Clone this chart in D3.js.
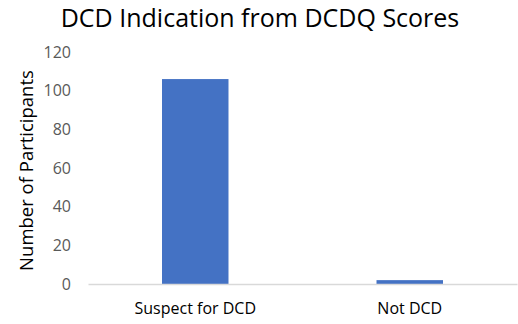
<!DOCTYPE html>
<html>
<head>
<meta charset="utf-8">
<script src="https://cdn.jsdelivr.net/npm/d3@7"></script>
<style>
  body { margin: 0; background: #fff; }
  text { font-family: "Open Sans", sans-serif; }
</style>
</head>
<body>
<svg id="viz"></svg>
<script>
const categories = ['Suspect for DCD', 'Not DCD']
const participants = [106, 2]
const yTicks = [0, 20, 40, 60, 80, 100, 120]

const width = 518
const height = 324
const margin = { top: 52, right: 1, bottom: 40, left: 88 }

const svg = d3.select('#viz').attr('width', width).attr('height', height)

const x = d3
  .scaleBand()
  .domain(categories)
  .range([margin.left, width - margin.right])
  .paddingInner(0.69)
  .paddingOuter(0.345)

const y = d3
  .scaleLinear()
  .domain([0, 120])
  .range([height - margin.bottom, margin.top])

// title
svg
  .append('text')
  .attr('x', 260)
  .attr('y', 27)
  .attr('text-anchor', 'middle')
  .attr('font-size', 25)
  .attr('fill', '#000')
  .text('DCD Indication from DCDQ Scores')

// y axis labels
const yAxis = svg
  .append('g')
  .attr('transform', `translate(${margin.left}, 0)`)
  .call(d3.axisLeft(y).tickValues(yTicks).tickSize(0).tickPadding(17))
yAxis.select('.domain').remove()
yAxis
  .selectAll('text')
  .attr('font-size', 16)
  .attr('fill', '#595959')
  .attr('font-family', '"Open Sans", sans-serif')

// bars
svg
  .append('g')
  .selectAll('rect')
  .data(participants)
  .join('rect')
  .attr('x', (d, i) => x(categories[i]))
  .attr('width', x.bandwidth())
  .attr('y', (d) => y(d))
  .attr('height', (d) => y(0) - y(d))
  .attr('fill', '#4472c4')

// x axis
const xAxis = svg
  .append('g')
  .attr('transform', `translate(0, ${y(0)})`)
  .call(d3.axisBottom(x).tickSize(0).tickPadding(19).tickSizeOuter(0))
xAxis.select('.domain').attr('stroke', '#d9d9d9').attr('stroke-width', 1.5)
xAxis
  .selectAll('text')
  .attr('font-size', 16)
  .attr('fill', '#000')
  .attr('font-family', '"Open Sans", sans-serif')

// y axis title
svg
  .append('text')
  .attr('transform', `translate(25, ${(margin.top + 285) / 2 + 2}) rotate(-90)`)
  .attr('text-anchor', 'middle')
  .attr('dominant-baseline', 'central')
  .attr('font-size', 18.5)
  .attr('fill', '#000')
  .text('Number of Participants')
</script>
</body>
</html>
